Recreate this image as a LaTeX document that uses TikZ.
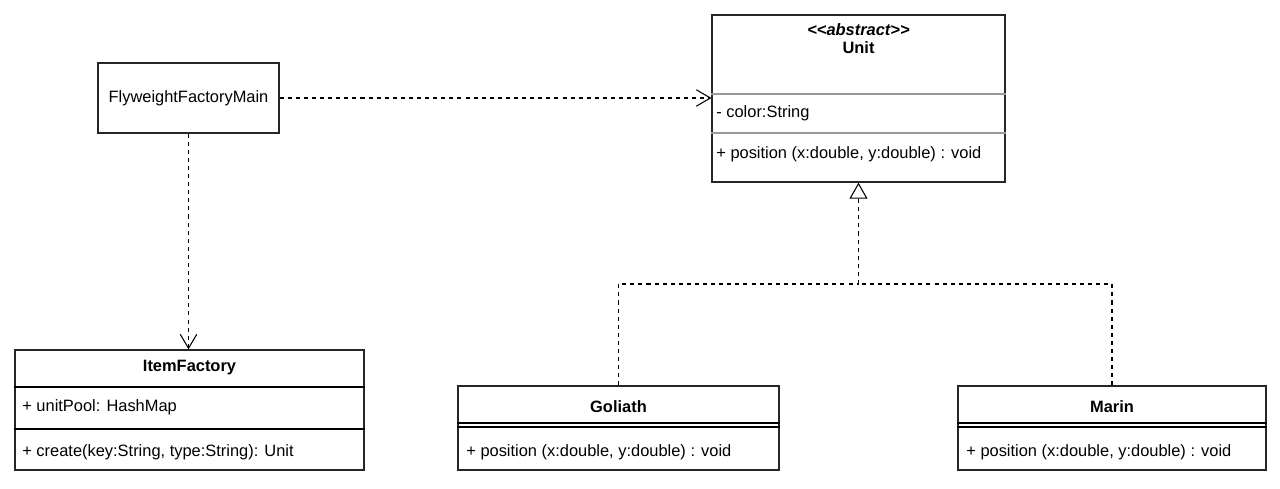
\documentclass[tikz,border=0pt]{standalone}
\usepackage{fontspec}
\setmainfont{Liberation Sans}
\usepackage{tikz}
\usetikzlibrary{arrows.meta}

\begin{document}
\begin{tikzpicture}[x=0.02cm,y=-0.02cm,
  font=\fontsize{9.35}{11}\selectfont,
  classbox/.style={draw=black!85,line width=0.75pt,fill=white,inner sep=0pt},
  member/.style={anchor=west,inner sep=0pt},
  dep/.style={line width=0.6pt,dash pattern=on 2.3pt off 2.3pt,-{Straight Barb[length=2.8mm,width=3.3mm]}},
  realize/.style={line width=0.6pt,dash pattern=on 2.3pt off 2.3pt}]
\useasboundingbox (0,0) rectangle (1280,489);
\node[classbox,minimum width=3.62cm,minimum height=1.4cm] (main) at (188.5,98) {FlyweightFactoryMain};
\node[classbox,minimum width=5.86cm,minimum height=3.34cm] (unit) at (858.5,98.5) {};
\node[classbox,minimum width=6.98cm,minimum height=2.4cm] (factory) at (189.5,410) {};
\node[classbox,minimum width=6.42cm,minimum height=1.68cm] (goliath) at (618.5,428) {};
\node[classbox,minimum width=6.16cm,minimum height=1.68cm] (marin) at (1112,428) {};
\draw[black!40,line width=0.6pt] (unit.west |- 0,94) -- (unit.east |- 0,94);
\draw[black!40,line width=0.6pt] (unit.west |- 0,133) -- (unit.east |- 0,133);
\node (stereo) at (858.5,30) {\bfseries\itshape <{}<abstract>{}>};
\node (unitname) at (858.5,48) {\bfseries Unit};
\node[member] (unitattr) at (716,113) {- color:String};
\node[member] (unitop) at (716,154) {+ position (x:double, y:double) : void};
\draw[line width=0.6pt] (factory.west |- 0,387) -- (factory.east |- 0,387);
\draw[line width=0.6pt] (factory.west |- 0,429) -- (factory.east |- 0,429);
\node (factoryname) at (189.5,368) {\bfseries ItemFactory};
\node[member] (factoryattr) at (22,407) {+ unitPool: HashMap};
\node[member] (factoryop) at (22,452) {+ create(key:String, type:String): Unit};
\draw[line width=0.6pt] (goliath.west |- 0,423) -- (goliath.east |- 0,423);
\draw[line width=0.6pt] (goliath.west |- 0,427) -- (goliath.east |- 0,427);
\node (goliathname) at (618.5,407) {\bfseries Goliath};
\node[member] (goliathop) at (466,452) {+ position (x:double, y:double) : void};
\draw[line width=0.6pt] (marin.west |- 0,423) -- (marin.east |- 0,423);
\draw[line width=0.6pt] (marin.west |- 0,427) -- (marin.east |- 0,427);
\node (marinname) at (1112,407) {\bfseries Marin};
\node[member] (marinop) at (966,452) {+ position (x:double, y:double) : void};
\draw[dep] (main.east) -- (main.east -| unit.west);
\draw[dep] (main.south) -- (main.south |- factory.north);
\coordinate (join) at (unit.south |- 0,284);
\draw[realize] (goliath.north) |- (join);
\draw[realize] (marin.north) |- (join);
\draw[realize,-{Triangle[open,length=3.2mm,width=3.6mm,fill=white]}] (join) -- (unit.south);
\end{tikzpicture}
\end{document}
